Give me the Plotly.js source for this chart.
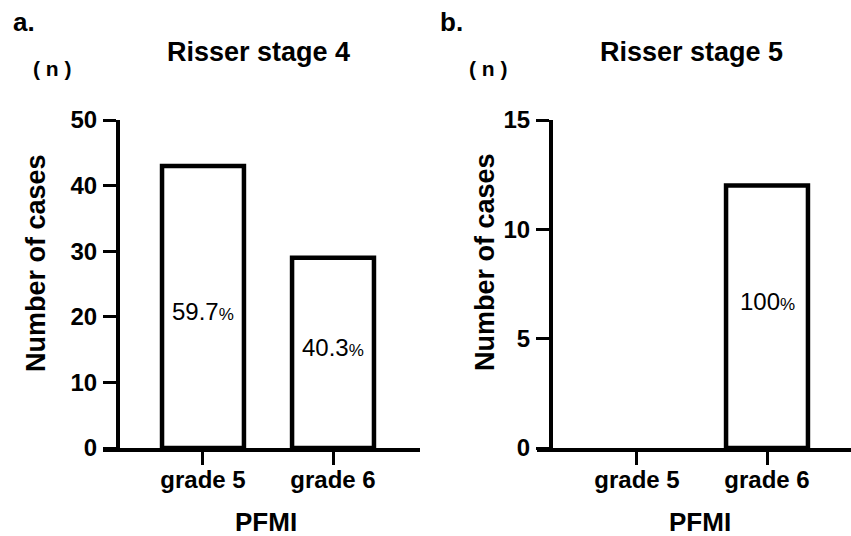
<!DOCTYPE html>
<html>
<head>
<meta charset="utf-8">
<script src="https://cdn.plot.ly/plotly-3.0.1.min.js"></script>
<style>
  html, body { margin: 0; padding: 0; background: #fff; }
  #chart { width: 851px; height: 536px; }
</style>
</head>
<body>
<div id="chart"></div>
<script>
// ---- data ----
const categories = ['grade 5', 'grade 6'];
const stage4Counts = [43, 29];
const stage5Counts = [0, 12];
const stage4Pct = ['59.7', '40.3'];
const stage5Pct = [null, '100'];
const panelTitles = ['Risser stage 4', 'Risser stage 5'];
const panelLetters = ['a.', 'b.'];
const stage4Ticks = [0, 10, 20, 30, 40, 50];
const stage5Ticks = [0, 5, 10, 15];

// ---- layout helpers ----
const W = 851, H = 536;
const px = v => v / W;
const py = v => 1 - v / H;
const FONT = 'Liberation Sans, Arial, Helvetica, sans-serif';

const barLine = vals => vals.map(v => (v > 0 ? 4.5 : 0));
const mkBar = (vals, xa, ya) => ({
  type: 'bar', x: categories, y: vals, xaxis: xa, yaxis: ya,
  width: 0.63,
  marker: { color: '#ffffff', line: { color: '#000000', width: barLine(vals) } }
});

const traces = [
  mkBar(stage4Counts, 'x', 'y'),
  mkBar(stage5Counts, 'x2', 'y2')
];

const axisCommon = {
  showline: true, linecolor: '#000', linewidth: 3.5,
  ticks: 'outside', ticklen: 13, tickwidth: 3, tickcolor: '#000',
  showgrid: false, zeroline: false, fixedrange: true
};

const xTickFont = { family: FONT, size: 24, color: '#000', weight: 'bold' };
const yTickFont = { family: FONT, size: 24, color: '#000', weight: 'bold' };

const layout = {
  width: W, height: H,
  margin: { l: 0, r: 0, t: 0, b: 0 },
  paper_bgcolor: '#fff', plot_bgcolor: 'rgba(0,0,0,0)',
  showlegend: false,
  xaxis: Object.assign({}, axisCommon, {
    domain: [px(103), px(420)], range: [-0.769, 1.669], anchor: 'y',
    type: 'category', tickfont: xTickFont, ticklabelstandoff: -5
  }),
  yaxis: Object.assign({}, axisCommon, {
    domain: [py(448), py(120)], range: [0, 50], anchor: 'free', position: px(117),
    tickmode: 'array', tickvals: stage4Ticks, ticktext: stage4Ticks.map(String),
    tickfont: yTickFont, ticklabelstandoff: 1
  }),
  xaxis2: Object.assign({}, axisCommon, {
    domain: [px(537), 1], range: [-0.769, 1.646], anchor: 'y2',
    type: 'category', tickfont: xTickFont, ticklabelstandoff: -5
  }),
  yaxis2: Object.assign({}, axisCommon, {
    domain: [py(448), py(120)], range: [0, 15], anchor: 'free', position: px(550),
    tickmode: 'array', tickvals: stage5Ticks, ticktext: stage5Ticks.map(String),
    tickfont: yTickFont, ticklabelstandoff: 1
  }),
  annotations: []
};

const ann = a => layout.annotations.push(Object.assign({ showarrow: false, xref: 'paper', yref: 'paper' }, a));
const boldFont = size => ({ family: FONT, size: size, color: '#000', weight: 'bold' });

// panel letters
ann({ text: panelLetters[0], x: px(11), y: py(22), xanchor: 'left', yanchor: 'middle', font: boldFont(26) });
ann({ text: panelLetters[1], x: px(438), y: py(22), xanchor: 'left', yanchor: 'middle', font: boldFont(26) });
// panel titles
ann({ text: panelTitles[0], x: px(258), y: py(52), xanchor: 'center', yanchor: 'middle', font: boldFont(27) });
ann({ text: panelTitles[1], x: px(691), y: py(52), xanchor: 'center', yanchor: 'middle', font: boldFont(27) });
// unit labels
ann({ text: '( n )', x: px(52), y: py(68), xanchor: 'center', yanchor: 'middle', font: boldFont(21) });
ann({ text: '( n )', x: px(488), y: py(68), xanchor: 'center', yanchor: 'middle', font: boldFont(21) });
// y axis titles
ann({ text: 'Number of cases', textangle: -90, x: px(36), y: py(263), xanchor: 'center', yanchor: 'middle', font: boldFont(27) });
ann({ text: 'Number of cases', textangle: -90, x: px(485), y: py(262), xanchor: 'center', yanchor: 'middle', font: boldFont(27) });
// x axis titles
ann({ text: 'PFMI', x: px(266), y: py(522), xanchor: 'center', yanchor: 'middle', font: boldFont(26) });
ann({ text: 'PFMI', x: px(700), y: py(522), xanchor: 'center', yanchor: 'middle', font: boldFont(26) });

// percentage labels inside bars
const pctFont = { family: FONT, size: 24, color: '#000' };
const pctShift4 = [-5, 5];
const pctShift5 = [0, 15];
const addPct = (pcts, counts, shifts, xa, ya) => pcts.forEach((p, i) => {
  if (p === null) return;
  layout.annotations.push({
    showarrow: false, xref: xa, yref: ya, x: categories[i], y: counts[i] / 2,
    yshift: shifts[i], xanchor: 'center', yanchor: 'middle',
    text: p + '<span style="font-size:17px">%</span>', font: pctFont
  });
});
addPct(stage4Pct, stage4Counts, pctShift4, 'x', 'y');
addPct(stage5Pct, stage5Counts, pctShift5, 'x2', 'y2');

Plotly.newPlot('chart', traces, layout, { displayModeBar: false, staticPlot: true });
</script>
</body>
</html>
